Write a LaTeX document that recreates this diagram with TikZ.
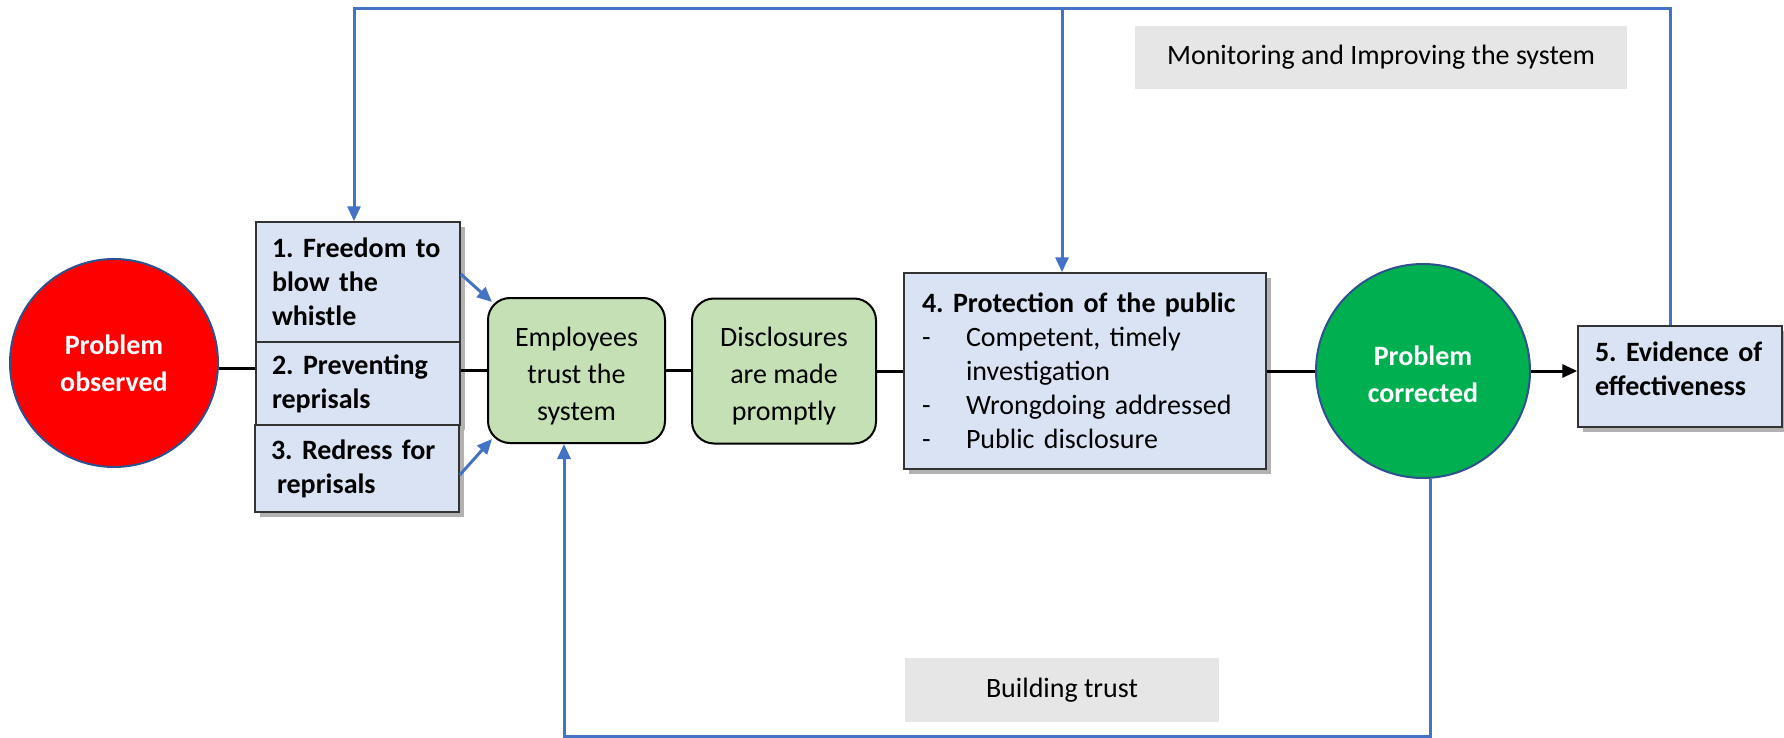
\documentclass[tikz,border=0pt]{standalone}
\usepackage{fontspec}
\setmainfont{Carlito}
\usetikzlibrary{arrows.meta,shadows,calc}
\definecolor{boxblue}{HTML}{DAE3F3}
\definecolor{boxgreen}{HTML}{C5E0B4}
\definecolor{linkblue}{HTML}{4472C4}
\definecolor{circred}{HTML}{FF0000}
\definecolor{circgreen}{HTML}{00B050}
\definecolor{circedge}{HTML}{2F528F}
\definecolor{labelgrey}{HTML}{E7E6E6}
\begin{document}
\begin{tikzpicture}[x=1pt,y=-1pt,
  rtxt/.style={font=\fontsize{28}{34}\selectfont\frenchspacing},
  btxt/.style={font=\fontsize{28}{34}\selectfont\bfseries\frenchspacing},
  bluebox/.style={rectangle, draw=black!80, line width=1.5pt, fill=boxblue, align=left, inner xsep=16pt, inner ysep=0pt, drop shadow={shadow xshift=5pt, shadow yshift=-5pt, opacity=0.3, fill=black}},
  greenbox/.style={font=\fontsize{28}{37}\selectfont, rectangle, rounded corners=22pt, draw=black, line width=2pt, fill=boxgreen, align=center, minimum height=145pt, inner sep=0pt},
  circ/.style={circle, draw=circedge, line width=2pt, text=white, font=\fontsize{28}{37}\selectfont\bfseries, align=center, inner sep=0pt},
  lbl/.style={rtxt, fill=labelgrey, inner sep=0pt},
  conn/.style={draw=black, line width=3pt},
  fb/.style={draw=linkblue, line width=3pt},
  tipb/.style={-{Triangle[length=15pt,width=13pt]}}
]
\useasboundingbox (0,0) rectangle (1784,738);

% labels
\node[lbl, minimum width=492pt, minimum height=63pt] (mon) at (1381,57.5) {Monitoring and Improving the system};
\node[lbl, minimum width=314pt, minimum height=64pt] (bt) at (1062,690) {Building trust};

% circles
\node[circ, fill=circred, minimum size=208pt] (red) at (114,363) {Problem\\observed};
\node[circ, fill=circgreen, minimum size=214pt] (grn) at (1423,371) {\rule{0pt}{26pt}Problem\\corrected};

% blue boxes
\node[bluebox, btxt, text width=172pt, minimum height=120pt] (b1) at (358,282) {1. Freedom to\\blow the\\whistle};
\node[bluebox, btxt, text width=172pt, minimum height=83pt] (b2) at (358,383.5) {2. Preventing\\reprisals};
\node[bluebox, btxt, text width=172pt, minimum height=87pt] (b3) at (357,468.5) {3. Redress for\\\hspace*{6pt}reprisals};
\node[bluebox, rtxt, text width=326pt, inner xsep=18pt, minimum height=196pt] (b4) at (1085,371) {\textbf{4. Protection of the public}\\
\makebox[44pt][l]{-}Competent, timely\\
\hspace*{44pt}investigation\\
\makebox[44pt][l]{-}Wrongdoing addressed\\
\makebox[44pt][l]{-}Public disclosure};
\node[bluebox, btxt, text width=170pt, inner xsep=17pt, minimum height=101pt] (b5) at (1680,376.5) {5. Evidence of\\effectiveness\rule[-16pt]{0pt}{0pt}};

% green boxes
\node[greenbox, minimum width=177pt] (emp) at (576.5,370.5) {\rule{0pt}{30pt}Employees\\trust the\\system};
\node[greenbox, minimum width=184pt] (disc) at (784,371) {\rule{0pt}{30pt}Disclosures\\are made\\promptly};

% black connectors
\draw[conn] (red.-3) -- (red.-3 -| b2.west);
\draw[conn] (b2.east |- emp.west) -- (emp.west);
\draw[conn] (emp.east) -- (emp.east -| disc.west);
\draw[conn] (disc.east) -- (disc.east -| b4.west);
\draw[conn] (b4.east) -- (b4.east -| grn.west);
\draw[conn, tipb] (grn.east) -- (grn.east -| b5.west);

% blue short arrows
\draw[fb, tipb] ($(b1.east)+(0,-8)$) -- ($(emp.north west)+(5,5)$);
\draw[fb, tipb] ($(b3.east)+(0,6.5)$) -- ($(emp.south west)+(5,-5)$);

% feedback loops
\coordinate (tl) at (354,9);
\coordinate (tm) at (1062,9);
\coordinate (bl) at (564,736);
\draw[fb, tipb] ([xshift=-10pt]b5.north) |- (tl) -- (tl |- b1.north);
\draw[fb, tipb] (tm) -- (tm |- b4.north);
\draw[fb, tipb] (grn.-86) |- (bl) -- (bl |- emp.south);
\end{tikzpicture}
\end{document}
